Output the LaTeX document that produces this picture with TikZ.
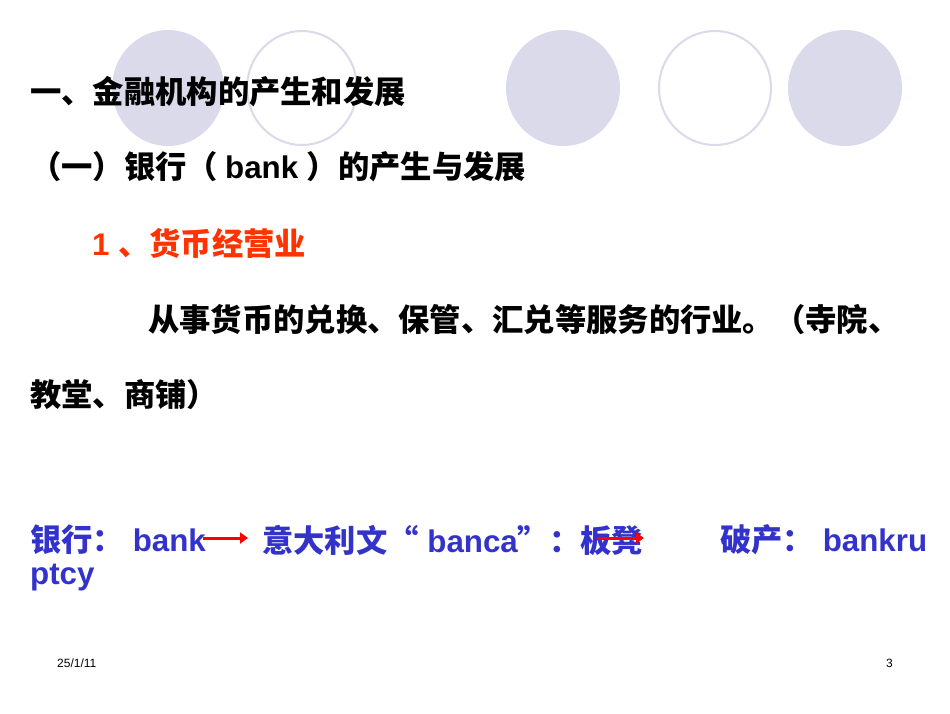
\documentclass[tikz,border=0pt]{standalone}
\usepackage{fontspec}
\usetikzlibrary{arrows.meta}
\setmainfont{Liberation Sans}
\newfontfamily\cjk{Noto Sans CJK SC}
\begin{document}
\begin{tikzpicture}[x=1pt,y=-1pt,
  txt/.style={anchor=west,inner sep=0pt,font=\fontsize{31.3}{32}\selectfont\bfseries},
  bl/.style={txt,text={rgb,255:red,51;green,51;blue,204}},
  filledc/.style={fill={rgb,255:red,218;green,218;blue,234},draw=none},
  openc/.style={draw={rgb,255:red,218;green,218;blue,234},line width=2pt},
  redarr/.style={draw=red,line width=3pt,-{Triangle[length=8pt,width=11pt]}}]
\useasboundingbox (0,0) rectangle (950,713);
\fill[white] (0,0) rectangle (950,713);
\path[filledc] (168,88) ellipse (56 and 58);
\path[openc] (302,88) ellipse (55 and 57);
\path[filledc] (563,88) ellipse (57 and 58);
\path[openc] (715,88) ellipse (56 and 57);
\path[filledc] (845,88) ellipse (57 and 58);
\node[txt] (t1) at (30,92) {\cjk 一、金融机构的产生和发展};
\node[txt] (t2) at (30,167) {\cjk（一）银行（ \rmfamily bank \cjk）的产生与发展};
\node[txt,text={rgb,255:red,255;green,51;blue,0}] (t3) at (92,243) {1 \cjk、货币经营业};
\node[txt] (t4) at (148,320) {\cjk 从事货币的兑换、保管、汇兑等服务的行业。（寺院、};
\node[txt] (t5) at (30,395) {\cjk 教堂、商铺）};
\node[bl] (b1) at (30,540) {{\cjk 银行：} bank};
\node[bl] (b2) at (262,540) {{\cjk 意大利文“} banca{\cjk ”：板凳}};
\node[bl] (b3) at (720,540) {{\cjk 破产：} bankru};
\node[bl] (b4) at (30,578) {ptcy};
\coordinate (a1s) at (203,538); \coordinate (a1e) at (248,538);
\coordinate (a2s) at (597,538); \coordinate (a2e) at (644,538);
\draw[redarr] (a1s) -- (a1e);
\draw[redarr] (a2s) -- (a2e);
\node[anchor=west,inner sep=0pt,font=\fontsize{12}{13}\selectfont] (d) at (57,663) {25/1/11};
\node[anchor=east,inner sep=0pt,font=\fontsize{12}{13}\selectfont] (p) at (893,663) {3};
\end{tikzpicture}
\end{document}
